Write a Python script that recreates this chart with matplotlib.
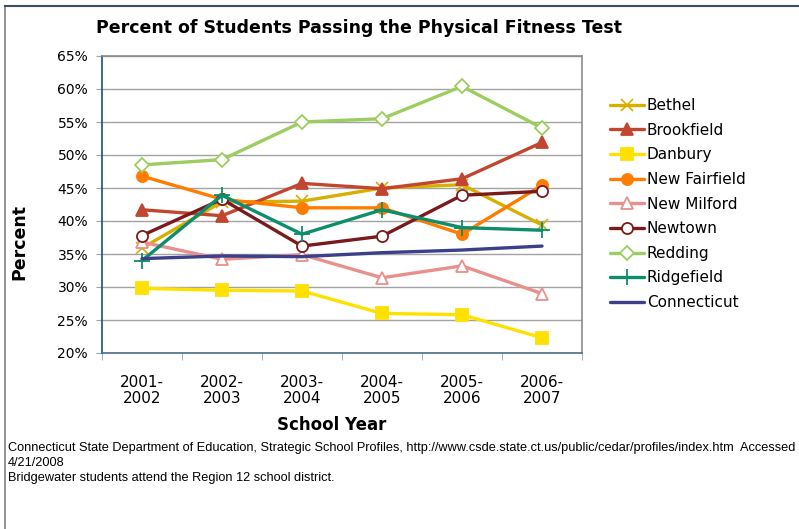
"""
Percent of students passing the physical fitness test, 2001-2007
Recreation of a spreadsheet line chart
"""

import matplotlib.pyplot as plt
from matplotlib.patches import Rectangle

plt.rcParams['font.family'] = 'DejaVu Sans'

# School years (categories)
years = ['2001-\n2002', '2002-\n2003', '2003-\n2004', '2004-\n2005', '2005-\n2006', '2006-\n2007']

# Percent passing
bethel = [35.9, 42.9, 43.0, 45.0, 45.5, 39.4]
brookfield = [41.7, 40.8, 45.7, 44.9, 46.4, 51.9]
danbury = [29.8, 29.5, 29.4, 26.0, 25.8, 22.3]
new_fairfield = [46.8, 43.3, 42.0, 42.0, 38.0, 45.4]
new_milford = [36.8, 34.2, 34.9, 31.4, 33.2, 29.0]
newtown = [37.8, 43.3, 36.2, 37.7, 43.9, 44.5]
redding = [48.5, 49.3, 55.0, 55.5, 60.4, 54.1]
ridgefield = [34.0, 43.9, 38.0, 41.7, 39.0, 38.6]
connecticut = [34.3, 34.7, 34.6, 35.2, 35.6, 36.2]

y_ticks = [20, 25, 30, 35, 40, 45, 50, 55, 60, 65]

# name, values, colour, marker, filled
series = [
    ('Bethel', bethel, '#D6AF00', 'x', True),
    ('Brookfield', brookfield, '#C2452F', '^', True),
    ('Danbury', danbury, '#FFE100', 's', True),
    ('New Fairfield', new_fairfield, '#FF7C00', 'o', True),
    ('New Milford', new_milford, '#E8908C', '^', False),
    ('Newtown', newtown, '#7A1A1D', 'o', False),
    ('Redding', redding, '#9DCC5F', 'D', False),
    ('Ridgefield', ridgefield, '#0C8E6C', '+', True),
    ('Connecticut', connecticut, '#3C3F8A', None, True),
]

fig = plt.figure(figsize=(7.99, 5.29), dpi=100)

# outer chart frame
fig.patches.append(Rectangle((5 / 799, -0.01), 1.0, 1 - 6 / 529 + 0.01,
                             transform=fig.transFigure, fill=False,
                             edgecolor='#7F7F7F', linewidth=1.2))
fig.lines.append(plt.Line2D([5 / 799, 1.0], [1 - 6 / 529, 1 - 6 / 529],
                            transform=fig.transFigure, color='#3E4E5E', linewidth=1.5))

ax = fig.add_axes([102 / 799, (529 - 353) / 529, 480 / 799, 297 / 529])

x = list(range(len(years)))
for name, vals, col, mk, filled in series:
    kw = dict(color=col, linewidth=2.4, label=name, solid_capstyle='round')
    if mk is not None:
        size = {'x': 9, '^': 9, 's': 8, 'o': 8, 'D': 7, '+': 12}[mk]
        kw.update(marker=mk, markersize=size, markeredgecolor=col,
                  markerfacecolor=col if filled else 'white',
                  markeredgewidth=1.3)
        if mk in ('x',):
            kw.update(markeredgewidth=1.2)
    ax.plot(x, vals, **kw)

ax.set_xlim(-0.5, 5.5)
ax.set_ylim(20, 65)
ax.set_yticks(y_ticks)
ax.set_yticklabels([f'{v}%' for v in y_ticks], fontsize=10)
ax.set_xticks(x)
ax.set_xticklabels(years, fontsize=11, linespacing=1.1)
ax.set_xticks([i - 0.5 for i in range(len(years) + 1)], minor=True)
ax.tick_params(axis='x', which='major', length=0, pad=16)
ax.tick_params(axis='x', which='minor', length=5, color='#8EA7BD', direction='out')
ax.tick_params(axis='y', length=4, color='#8EA7BD', direction='out', pad=6)
ax.grid(axis='y', color='#A3A3A3', linewidth=1.0)
ax.set_axisbelow(True)

ax.spines['left'].set_color('#1F4E79')
ax.spines['left'].set_linewidth(1.2)
ax.spines['bottom'].set_color('#4A6E8F')
ax.spines['bottom'].set_linewidth(1.2)
ax.spines['top'].set_color('#8C8C8C')
ax.spines['right'].set_color('#8C8C8C')
ax.spines['top'].set_linewidth(1.2)
ax.spines['right'].set_linewidth(1.2)

ax.set_xlabel('School Year', fontsize=12, fontweight='bold')
ax.set_ylabel('Percent', fontsize=12.5, fontweight='bold')
ax.xaxis.set_label_coords((332 - 102) / 480, -(425 - 353) / 297)
ax.yaxis.set_label_coords((19 - 102) / 480, (353 - 242) / 297)
ax.xaxis.label.set_va('center')
ax.yaxis.label.set_va('center')

fig.text(359 / 799, 1 - 28 / 529, 'Percent of Students Passing the Physical Fitness Test',
         ha='center', va='center', fontsize=12.5, fontweight='bold')

ax.legend(loc='upper left', bbox_to_anchor=(604 / 799, 1 - 92 / 529),
          bbox_transform=fig.transFigure, frameon=False, fontsize=11,
          handlelength=2.2, handletextpad=0.2, labelspacing=0.63, borderaxespad=0)

notes = [
    'Connecticut State Department of Education, Strategic School Profiles, '
    'http://www.csde.state.ct.us/public/cedar/profiles/index.htm  Accessed',
    '4/21/2008',
    'Bridgewater students attend the Region 12 school district.',
]
for i, line in enumerate(notes):
    fig.text(8 / 799, 1 - (448 + i * 15) / 529, line, ha='left', va='center',
             fontsize=9.2, family='Liberation Sans')

fig.savefig('out.png', dpi=100)
